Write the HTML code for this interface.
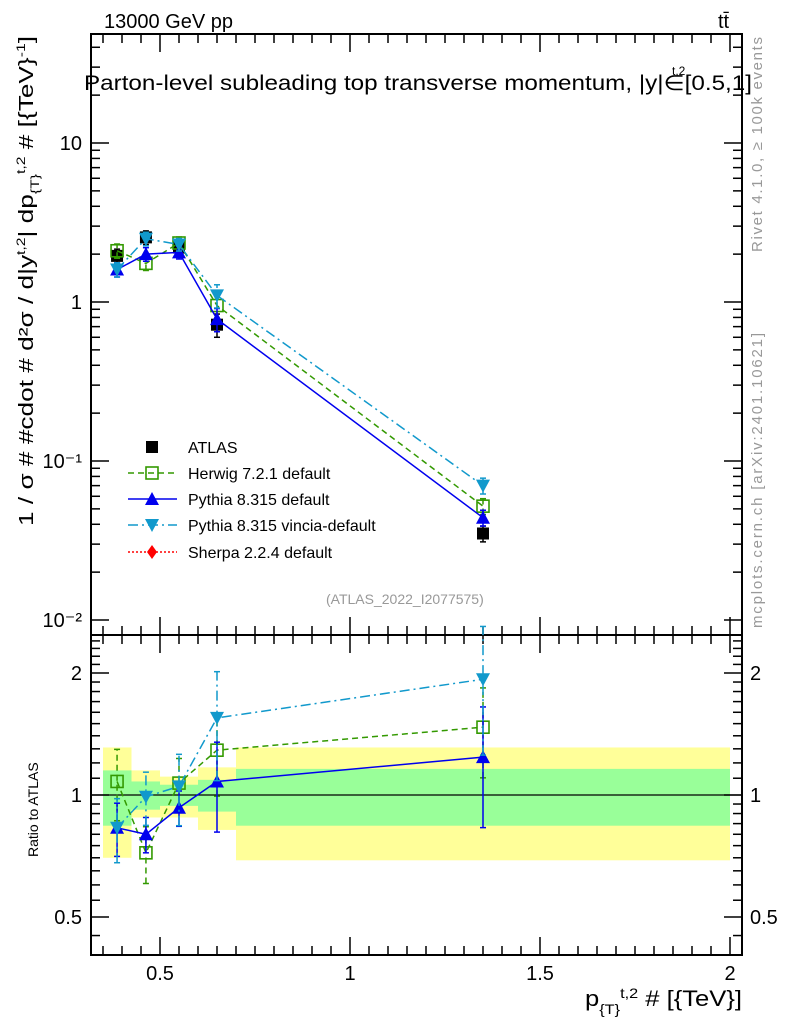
<!DOCTYPE html>
<html><head><meta charset="utf-8"><style>
body{margin:0;background:#fff;}
svg{display:block;font-family:"Liberation Sans",sans-serif;}
</style></head><body>
<svg id="c" width="786" height="1024" xmlns="http://www.w3.org/2000/svg">
<text x="104" y="28" font-size="20">13000 GeV pp</text>
<text x="718" y="28" font-size="20">tt̄</text>
<text x="84" y="90" font-size="21" textLength="668" lengthAdjust="spacingAndGlyphs">Parton-level subleading top transverse momentum, |y|∈[0.5,1]</text>
<text x="672" y="75" font-size="12">t,2</text>
<text transform="translate(33,526) rotate(-90)" font-size="20" textLength="490" lengthAdjust="spacingAndGlyphs">1 / σ # #cdot # d²σ / d|y<tspan font-size="12" dy="-8">t,2</tspan><tspan dy="8">| dp</tspan><tspan font-size="12" dy="6">{T}</tspan><tspan font-size="12" dy="-14">t,2</tspan><tspan dy="8"> # [{TeV}</tspan><tspan font-size="12" dy="-8">-1</tspan><tspan dy="8">]</tspan></text>
<text transform="translate(38,857) rotate(-90)" font-size="14">Ratio to ATLAS</text>
<text transform="translate(762,252) rotate(-90)" font-size="15" fill="#999" textLength="215">Rivet 4.1.0, ≥ 100k events</text>
<text transform="translate(762,628) rotate(-90)" font-size="15" fill="#999" textLength="295">mcplots.cern.ch [arXiv:2401.10621]</text>
<text x="326" y="604" font-size="14" fill="#999">(ATLAS_2022_I2077575)</text>
<text x="585" y="1006" font-size="22" textLength="157" lengthAdjust="spacingAndGlyphs">p<tspan font-size="14" dy="8">{T}</tspan><tspan font-size="14" dy="-16">t,2</tspan><tspan dy="8"> # [{TeV}]</tspan></text>
<g id="g"></g>
</svg>
<script>
const binEdges=[0.35,0.425,0.5,0.6,0.7,2.0];
const xVals=[0.387,0.463,0.55,0.65,1.35];
const atlas=[1.95,2.55,2.2,0.72,0.035];
const atlasErr=[0.2,0.25,0.2,0.12,0.004];
const herwig=[2.1,1.75,2.35,0.95,0.052];
const pythia=[1.6,2.0,2.05,0.78,0.044];
const vincia=[1.6,2.5,2.3,1.1,0.07];
const herwigR=[1.08,0.72,1.07,1.29,1.47];
const pythiaR=[0.83,0.8,0.93,1.08,1.24];
const vinciaR=[0.83,0.99,1.05,1.55,1.93];
const herwigRErr=[0.2,0.16,0.15,0.23,0.25];
const pythiaRErr=[0.15,0.1,0.1,0.25,0.33];
const vinciaRErr=[0.18,0.15,0.2,0.3,0.35];
const yellowHi=[1.31,1.15,1.11,1.17,1.31];
const yellowLo=[0.70,0.88,0.88,0.82,0.69];
const greenHi=[1.15,1.08,1.06,1.09,1.16];
const greenLo=[0.84,0.92,0.94,0.91,0.84];
const xTicks=[0.5,1,1.5,2];
const xTickLabels=["0.5","1","1.5","2"];
const yMainTicks=[10,1,0.1,0.01];
const yMainLabels=["10","1","10⁻¹","10⁻²"];
const rTicks=[0.5,1,2];
const rTickLabels=["0.5","1","2"];

const L=91,R=742,T=34,MB=635,RB=955;
const X=v=>160+(v-0.5)*380;
const YM=v=>302-159*Math.log10(v);
const YR=v=>795-122*Math.log2(v);
const g=document.getElementById('g');
const NS='http://www.w3.org/2000/svg';
function el(t,a){const e=document.createElementNS(NS,t);for(const k in a)e.setAttribute(k,a[k]);g.appendChild(e);return e;}

for(let i=0;i<xVals.length;i++){
 let e=el('rect',{x:X(binEdges[i]),y:YR(yellowHi[i]),width:X(binEdges[i+1])-X(binEdges[i]),height:YR(yellowLo[i])-YR(yellowHi[i]),fill:'#ffff99'});
 
 
 e=el('rect',{x:X(binEdges[i]),y:YR(greenHi[i]),width:X(binEdges[i+1])-X(binEdges[i]),height:YR(greenLo[i])-YR(greenHi[i]),fill:'#99ff99'});
 
 
}
let ln=el('line',{x1:L,x2:R,y1:YR(1),y2:YR(1),stroke:'#000','stroke-width':1.3});



for(const [y1,y2,nm] of [[T,MB,'main-frame'],[MB,RB,'ratio-frame']]){
 const f=el('rect',{x:L,y:y1,width:R-L,height:y2-y1,fill:'none',stroke:'#000','stroke-width':2});
 
 
}
for(let v=0.35;v<=2.04;v+=0.05){
 const major=Math.abs(v*2-Math.round(v*2))<1e-6;
 const len=major?18:9;
 for(const [yb,dir] of [[MB,-1],[T,1],[RB,-1],[MB,1]]){
  el('line',{x1:X(v),x2:X(v),y1:yb,y2:yb+dir*len,stroke:'#000','stroke-width':1.5});
 }
}
xTicks.forEach((v,i)=>{const t=el('text',{x:X(v),y:980,'font-size':20,'text-anchor':'middle'});t.textContent=xTickLabels[i];
 
 });
for(let d=-2;d<=1;d++){for(let m=1;m<10;m++){const v=m*Math.pow(10,d);const y=YM(v);if(y<T||y>MB)continue;
 const len=m==1?18:9;el('line',{x1:L,x2:L+len,y1:y,y2:y,stroke:'#000','stroke-width':1.5});el('line',{x1:R,x2:R-len,y1:y,y2:y,stroke:'#000','stroke-width':1.5});}}
yMainTicks.forEach((v,i)=>{const t=el('text',{x:82,y:YM(v)+7,'font-size':20,'text-anchor':'end'});t.textContent=yMainLabels[i];
 
 });
for(let v=0.4;v<=2.5;v+=(v<1?0.05:0.1)){const y=YR(v);if(y<MB||y>RB)continue;
 const major=[0.5,1,2].some(m=>Math.abs(m-v)<1e-6);const len=major?18:9;
 el('line',{x1:L,x2:L+len,y1:y,y2:y,stroke:'#000','stroke-width':1.5});el('line',{x1:R,x2:R-len,y1:y,y2:y,stroke:'#000','stroke-width':1.5});}
rTicks.forEach((v,i)=>{
 let t=el('text',{x:82,y:YR(v)+7,'font-size':20,'text-anchor':'end'});t.textContent=rTickLabels[i];
 
 
 t=el('text',{x:750,y:YR(v)+7,'font-size':20});t.textContent=rTickLabels[i];
 
 });

function marker(type,x,y,c){
 if(type=='sq')return el('rect',{x:x-6,y:y-6,width:12,height:12,fill:'none',stroke:c,'stroke-width':1.6});
 if(type=='up')return el('polygon',{points:`${x-7},${y+6} ${x+7},${y+6} ${x},${y-7}`,fill:c});
 if(type=='dn')return el('polygon',{points:`${x-7},${y-6} ${x+7},${y-6} ${x},${y+7}`,fill:c});
 if(type=='fsq')return el('rect',{x:x-6,y:y-6,width:12,height:12,fill:c});
 if(type=='dia')return el('polygon',{points:`${x-5},${y} ${x},${y-7} ${x+5},${y} ${x},${y+7}`,fill:c});
}
function series(vals,Y,c,dash,mk,name,err,noLine){
 if(!noLine){
 const p=el('polyline',{points:vals.map((v,i)=>X(xVals[i])+','+Y(v)).join(' '),fill:'none',stroke:c,'stroke-width':1.5,'stroke-dasharray':dash});
 
 
 }
 vals.forEach((v,i)=>{
  if(err){const lo=v*(1-err[i]),hi=v*(1+err[i]);
   el('line',{x1:X(xVals[i]),x2:X(xVals[i]),y1:Y(lo),y2:Y(hi),stroke:c,'stroke-width':1.5,'stroke-dasharray':dash});
   el('line',{x1:X(xVals[i])-3,x2:X(xVals[i])+3,y1:Y(lo),y2:Y(lo),stroke:c,'stroke-width':1.5});
   el('line',{x1:X(xVals[i])-3,x2:X(xVals[i])+3,y1:Y(hi),y2:Y(hi),stroke:c,'stroke-width':1.5});}
  const m=marker(mk,X(xVals[i]),Y(v),c);
  
  
 });
}
const relA=atlasErr.map((e,i)=>e/atlas[i]);
series(atlas,YM,'#000','none','fsq','atlas',relA,true);
series(herwig,YM,'#339900','6,4','sq','herwig',relA);
series(pythia,YM,'#0000ee','none','up','pythia',relA);
series(vincia,YM,'#1199cc','10,4,2,4','dn','vincia',relA);
series(herwigR,YR,'#339900','6,4','sq','herwig-ratio',herwigRErr);
series(pythiaR,YR,'#0000ee','none','up','pythia-ratio',pythiaRErr);
series(vinciaR,YR,'#1199cc','10,4,2,4','dn','vincia-ratio',vinciaRErr);

const legNames=["ATLAS","Herwig 7.2.1 default","Pythia 8.315 default","Pythia 8.315 vincia-default","Sherpa 2.2.4 default"];
const legCols=['#000','#339900','#0000ee','#1199cc','#ff0000'];
const legDash=['','6,4','none','10,4,2,4','2,2'];
const legMk=['fsq','sq','up','dn','dia'];
legNames.forEach((n,i)=>{const y=447+i*26+(i==4?1:0);
 if(i>0){el('line',{x1:128,x2:177,y1:y,y2:y,stroke:legCols[i],'stroke-width':1.5,'stroke-dasharray':legDash[i]});}
 marker(legMk[i],152,y,legCols[i]);
 const t=el('text',{x:188,y:y+6,'font-size':16});t.textContent=n;
 
 });
</script>
</body></html>
